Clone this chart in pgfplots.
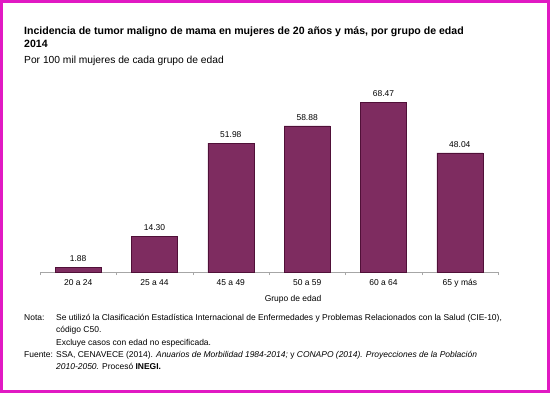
\documentclass[border=0pt]{standalone}
\usepackage{pgfplots}
\pgfplotsset{compat=1.18}
\usepackage{fontspec}
\setmainfont{Liberation Sans}
\definecolor{frame}{RGB}{225,25,195}
\definecolor{barfill}{RGB}{126,44,96}
\definecolor{baredge}{RGB}{80,16,56}
\begin{document}
\begin{tikzpicture}[x=1bp,y=1bp]
\useasboundingbox (0,0) rectangle (550,393);
\fill[white] (0,0) rectangle (550,393);
\draw[frame, line width=3bp] (1.5,1.5) rectangle (548.5,391.5);
% titles
\node[anchor=base west, inner sep=0pt, font=\fontsize{10.6}{12}\selectfont\bfseries] at (24,359) {Incidencia de tumor maligno de mama en mujeres de 20 años y más, por grupo de edad};
\node[anchor=base west, inner sep=0pt, font=\fontsize{10.6}{12}\selectfont\bfseries] at (24,346) {2014};
\node[anchor=base west, inner sep=0pt, font=\fontsize{10.3}{12}\selectfont] at (24,330) {Por 100 mil mujeres de cada grupo de edad};
\begin{axis}[
  at={(40bp,121bp)}, anchor=south west,
  width=458bp, height=173.6bp, scale only axis,
  xmin=-0.5, xmax=5.5, ymin=0, ymax=70,
  axis x line*=bottom, hide y axis,
  x axis line style={gray!70, -},
  xtick={0,...,5},
  xticklabels={20 a 24,25 a 44,45 a 49,50 a 59,60 a 64,65 y más},
  major tick length=0pt,
  extra x ticks={-0.5,0.5,1.5,2.5,3.5,4.5,5.5},
  extra x tick labels={},
  extra x tick style={major tick length=3bp, tick align=outside, tick style={gray!70}},
  xticklabel style={font=\fontsize{8.5}{10}\selectfont, anchor=base, yshift=-13bp},
  /pgf/number format/assume math mode=true,
  clip=false,
  nodes near coords,
  nodes near coords style={font=\fontsize{8.5}{10}\selectfont, yshift=2bp, /pgf/number format/.cd, fixed, fixed zerofill, precision=2, assume math mode=true},
]
\addplot[ybar, bar width=46bp, fill=barfill, draw=baredge, line width=0.6pt] coordinates {
  (0,1.88) (1,14.30) (2,51.98) (3,58.88) (4,68.47) (5,48.04)
};
\end{axis}
\node[anchor=base, inner sep=0pt, font=\fontsize{8.5}{10}\selectfont] at (293,92) {Grupo de edad};
% notes
\begin{scope}[every node/.style={anchor=base west, inner sep=0pt, font=\fontsize{8.5}{10}\selectfont}]
\node at (24,73) {Nota:};
\node at (56,73) {Se utilizó la Clasificación Estadística Internacional de Enfermedades y Problemas Relacionados con la Salud (CIE-10),};
\node at (56,61) {código C50.};
\node at (56,48) {Excluye casos con edad no especificada.};
\node at (24,36) {Fuente:};
\node at (56,36) {SSA, CENAVECE (2014). \textit{Anuarios de Morbilidad 1984-2014;} y \textit{CONAPO (2014). Proyecciones de la Población}};
\node at (56,24) {\textit{2010-2050.} Procesó \textbf{INEGI.}};
\end{scope}
\end{tikzpicture}
\end{document}
